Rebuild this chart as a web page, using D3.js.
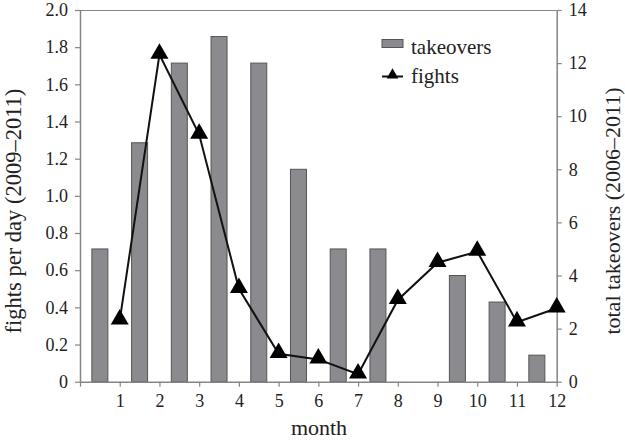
<!DOCTYPE html>
<html><head><meta charset="utf-8">
<script src="https://cdn.jsdelivr.net/npm/d3@7"></script>
<style>
body{margin:0;background:#fff}
svg text{font-family:"Liberation Serif","Times New Roman",serif;fill:#222}
</style></head>
<body><svg id="c" width="625" height="440"></svg>
<script>
const months = [1,2,3,4,5,6,7,8,9,10,11,12];
const takeovers = [5,9,12,13,12,8,5,5,0,4,3,1];
const fights = [0.33,1.76,1.33,0.50,0.15,0.12,0.04,0.44,0.64,0.70,0.32,0.395];
const leftTicks = [0,0.2,0.4,0.6,0.8,1.0,1.2,1.4,1.6,1.8,2.0];
const rightTicks = [0,2,4,6,8,10,12,14];
const xTicks = [0,1,2,3,4,5,6,7,8,9,10,11,12];

const FONT = '"Liberation Serif","Times New Roman",serif';
const svg = d3.select("#c");
const L=80, R=556.7, T=10, B=381.7;
const x = d3.scaleLinear().domain([0,12]).range([L,R]);
const yL = d3.scaleLinear().domain([0,2]).range([B,T]);
const yR = d3.scaleLinear().domain([0,14]).range([B,T]);
const axisCol = "#858585";

// bars
const bw = 16;
svg.append("g").selectAll("rect").data(months).join("rect")
  .attr("x", (m,i)=>x(m-0.5)-bw/2)
  .attr("y", (m,i)=>yR(takeovers[i]))
  .attr("width", bw)
  .attr("height", (m,i)=>B-yR(takeovers[i]))
  .attr("fill", "#8b8b8f").attr("stroke", "#555").attr("stroke-width", 1);

// top border
svg.append("line").attr("x1",L).attr("x2",R).attr("y1",T+0.5).attr("y2",T+0.5)
  .attr("stroke",axisCol).attr("stroke-width",1.2);

function styleAxis(g){
  g.attr("font-family", FONT).attr("font-size", 18);
  g.selectAll(".domain").attr("stroke",axisCol).attr("stroke-width",1.5);
  g.selectAll(".tick line").attr("stroke",axisCol).attr("stroke-width",1.2);
  g.selectAll(".tick text").attr("fill","#222").attr("font-family", FONT).attr("font-size", 18);
}
// left axis
const gl = svg.append("g").attr("transform",`translate(${L},0)`)
  .call(d3.axisLeft(yL).tickValues(leftTicks).tickSize(5).tickSizeOuter(0).tickPadding(7)
    .tickFormat(d=>d===0?"0":d3.format(".1f")(d)));
styleAxis(gl);
// right axis
const gr = svg.append("g").attr("transform",`translate(${R},0)`)
  .call(d3.axisRight(yR).tickValues(rightTicks).tickSize(5).tickSizeOuter(0).tickPadding(7));
styleAxis(gr);
// bottom axis
const gb = svg.append("g").attr("transform",`translate(0,${B})`)
  .call(d3.axisBottom(x).tickValues(xTicks).tickSize(5).tickSizeOuter(0).tickPadding(8)
    .tickFormat(d=>d===0?"":d));
styleAxis(gb);

// line
const line = d3.line().x((d,i)=>x(months[i])).y(d=>yL(d));
svg.append("path").datum(fights).attr("d",line).attr("fill","none")
  .attr("stroke","#111").attr("stroke-width",2);
const tri = d3.symbol().type(d3.symbolTriangle).size(140);
svg.append("g").selectAll("path").data(fights).join("path")
  .attr("d",tri).attr("transform",(d,i)=>`translate(${x(months[i])},${yL(d)-1})`)
  .attr("fill","#000");

// legend
svg.append("rect").attr("x",382).attr("y",39.5).attr("width",21).attr("height",8)
  .attr("fill","#8b8b8f").attr("stroke","#555");
svg.append("text").attr("x",411).attr("y",54).style("font-size","21px").text("takeovers");
svg.append("line").attr("x1",382).attr("x2",403).attr("y1",76.5).attr("y2",76.5).attr("stroke","#111").attr("stroke-width",2);
svg.append("path").attr("d",d3.symbol().type(d3.symbolTriangle).size(60)).attr("transform","translate(392.5,75)").attr("fill","#000");
svg.append("text").attr("x",411).attr("y",83).style("font-size","21px").text("fights");

// titles
svg.append("text").attr("x",319).attr("y",435).attr("text-anchor","middle").style("font-size","22px").text("month");
svg.append("text").attr("transform","translate(21,211) rotate(-90)").attr("text-anchor","middle").style("font-size","22.5px").text("fights per day (2009–2011)");
svg.append("text").attr("transform","translate(619.5,211) rotate(-90)").attr("text-anchor","middle").style("font-size","22px").text("total takeovers (2006–2011)");
</script></body></html>
